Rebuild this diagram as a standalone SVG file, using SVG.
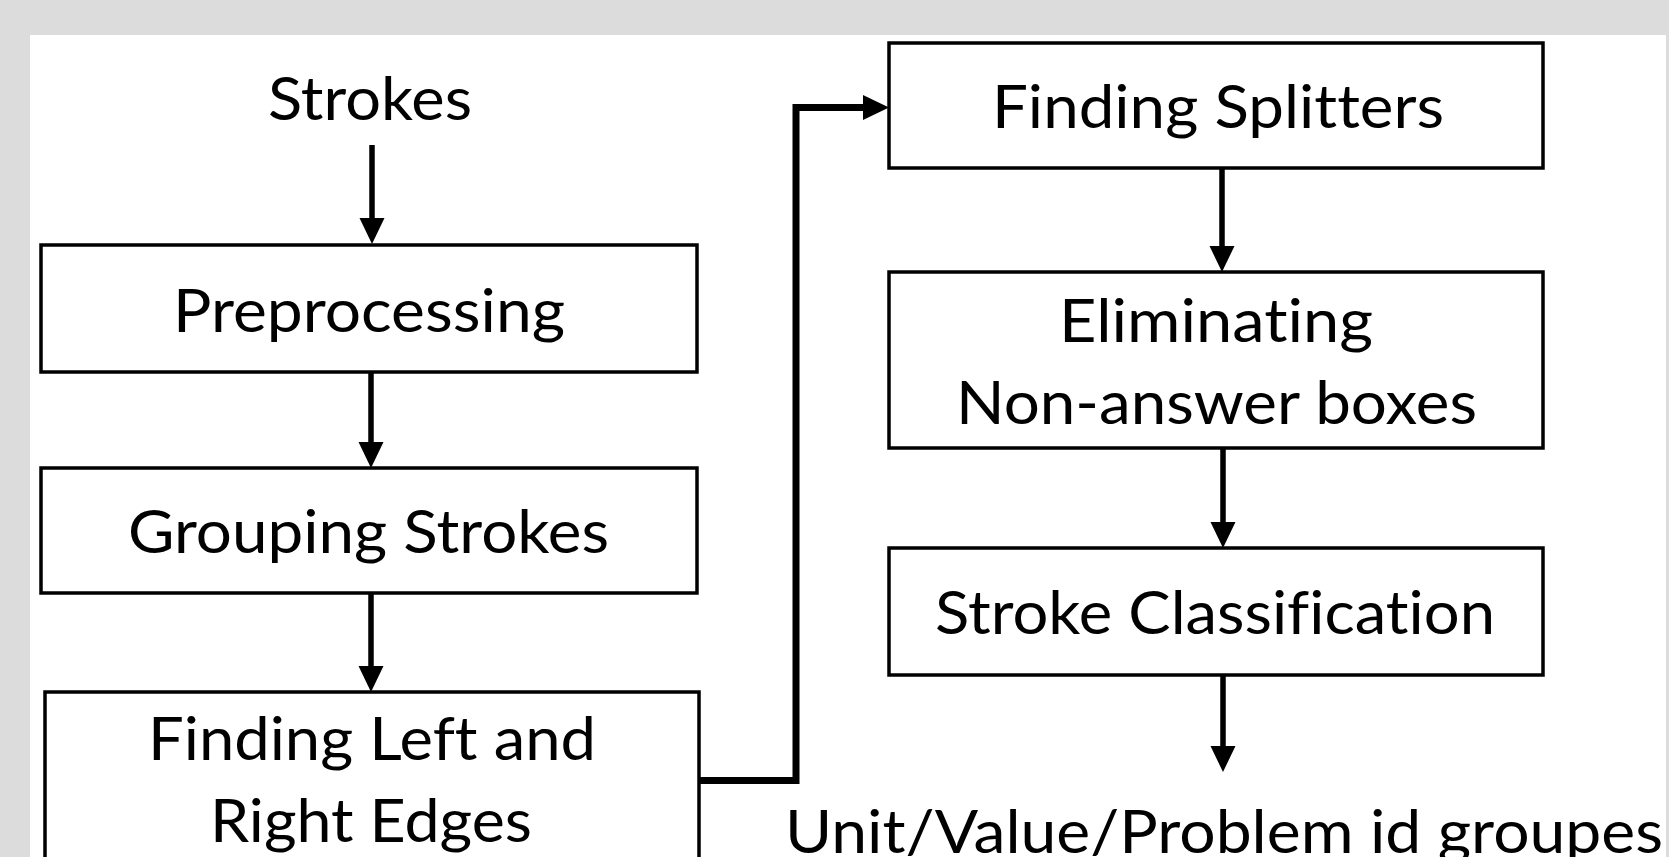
<svg xmlns="http://www.w3.org/2000/svg" width="1669" height="857" viewBox="0 0 1669 857">
<style>
.box{fill:#ffffff;stroke:#000000;stroke-width:3.5}
.lbl{font-family:Lato,"Liberation Sans",sans-serif;font-size:60px;fill:#000000;text-anchor:middle;font-variant-ligatures:none;font-feature-settings:"liga" 0,"clig" 0}
.arr{fill:none;stroke:#000000;stroke-width:5.5;marker-end:url(#ah)}
.elbow{fill:none;stroke:#000000;stroke-width:7;stroke-linejoin:miter;marker-end:url(#ah)}
</style>
<defs>
<marker id="ah" markerUnits="userSpaceOnUse" markerWidth="27" markerHeight="26" refX="1" refY="12.5" orient="auto" overflow="visible">
<path d="M0,0 L26,12.5 L0,25 Z" fill="#000000"/>
</marker>
</defs>
<rect x="0" y="0" width="1669" height="857" fill="#dcdcdc"/>
<rect x="30" y="35" width="1636" height="822" fill="#ffffff"/>

<g id="connectors">
<path class="arr" d="M372,145 V219"/>
<path class="arr" d="M371,372 V443"/>
<path class="arr" d="M371,593 V667"/>
<path class="elbow" d="M699,780.5 H796 V107.5 H864"/>
<path class="arr" d="M1222,168 V247"/>
<path class="arr" d="M1223,448 V523"/>
<path class="arr" d="M1223,675 V747"/>
</g>

<g id="node-strokes">
<text class="lbl" x="370" y="120" textLength="204" lengthAdjust="spacingAndGlyphs">Strokes</text>
</g>
<g id="node-preprocessing">
<rect class="box" x="41" y="245" width="656" height="127"/>
<text class="lbl" x="369" y="332" textLength="392" lengthAdjust="spacingAndGlyphs">Preprocessing</text>
</g>
<g id="node-grouping">
<rect class="box" x="41" y="468" width="656" height="125"/>
<text class="lbl" x="368.5" y="553" textLength="481" lengthAdjust="spacingAndGlyphs">Grouping Strokes</text>
</g>
<g id="node-edges">
<rect class="box" x="45" y="692" width="654" height="200"/>
<text class="lbl" x="372" y="760" textLength="448" lengthAdjust="spacingAndGlyphs">Finding Left and</text>
<text class="lbl" x="371" y="842" textLength="322" lengthAdjust="spacingAndGlyphs">Right Edges</text>
</g>
<g id="node-splitters">
<rect class="box" x="889" y="43" width="654" height="125"/>
<text class="lbl" x="1218" y="128" textLength="452" lengthAdjust="spacingAndGlyphs">Finding Splitters</text>
</g>
<g id="node-eliminating">
<rect class="box" x="889" y="272" width="654" height="176"/>
<text class="lbl" x="1216" y="342" textLength="314" lengthAdjust="spacingAndGlyphs">Eliminating</text>
<text class="lbl" x="1216.5" y="424" textLength="521" lengthAdjust="spacingAndGlyphs">Non-answer boxes</text>
</g>
<g id="node-classification">
<rect class="box" x="889" y="548" width="654" height="127"/>
<text class="lbl" x="1215" y="634" textLength="560" lengthAdjust="spacingAndGlyphs">Stroke Classification</text>
</g>
<g id="node-output">
<text class="lbl" x="1224" y="853" textLength="878" lengthAdjust="spacingAndGlyphs">Unit/Value/Problem id groupes</text>
</g>
</svg>
